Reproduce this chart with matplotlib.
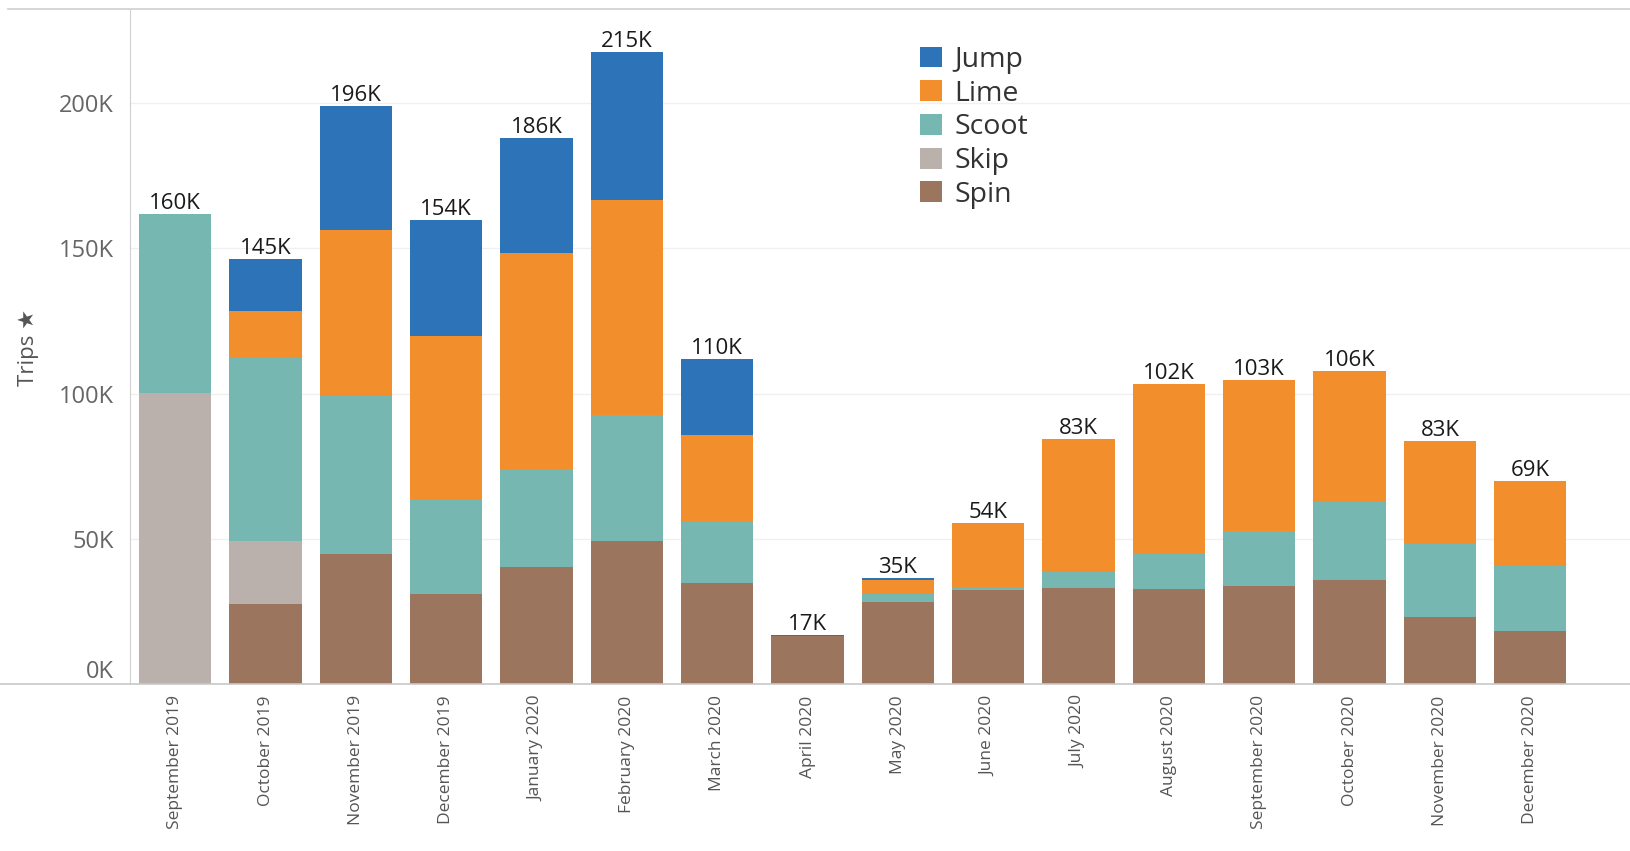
import numpy as np
import matplotlib.pyplot as plt
from matplotlib.lines import Line2D

plt.rcParams['font.family'] = ['Open Sans', 'DejaVu Sans']

months = ['September 2019', 'October 2019', 'November 2019', 'December 2019',
          'January 2020', 'February 2020', 'March 2020', 'April 2020',
          'May 2020', 'June 2020', 'July 2020', 'August 2020',
          'September 2020', 'October 2020', 'November 2020', 'December 2020']

# trips in thousands
spin  = [0, 27.6, 44.8, 31.0, 40.3, 49.3, 34.8, 16.5, 28.3, 32.4, 33.1, 32.8, 33.8, 35.9, 23.1, 18.3]
skip  = [100.3, 21.7, 0, 0, 0, 0, 0, 0, 0, 0, 0, 0, 0, 0, 0, 0]
scoot = [61.7, 63.1, 54.5, 32.4, 33.5, 43.5, 21.4, 0, 2.7, 1.0, 5.5, 12.0, 19.0, 26.9, 25.2, 22.4]
lime  = [0, 16.2, 56.9, 56.6, 74.8, 73.8, 29.7, 0, 4.9, 22.1, 45.9, 58.6, 52.0, 45.1, 35.5, 29.3]
jump  = [0, 17.6, 42.8, 39.7, 39.3, 51.0, 26.2, 0.5, 0.7, 0, 0, 0, 0, 0, 0, 0]

total_labels = ['160K', '145K', '196K', '154K', '186K', '215K', '110K', '17K',
                '35K', '54K', '83K', '102K', '103K', '106K', '83K', '69K']

series = [('Spin', spin, '#9c755f'),
          ('Skip', skip, '#bab0ac'),
          ('Scoot', scoot, '#76b7b2'),
          ('Lime', lime, '#f28e2b'),
          ('Jump', jump, '#2d73b8')]

fig = plt.figure(figsize=(16.3, 8.51), dpi=100)
ax = fig.add_axes([0.0798, 0.196, 0.92, 0.792])

x = np.arange(len(months))
bottom = np.zeros(len(months))
handles = {}
for name, vals, color in series:
    vals = np.array(vals)
    h = ax.bar(x, vals, 0.8, bottom=bottom, color=color, label=name, linewidth=0)
    handles[name] = h
    bottom += vals

for xi, top, lab in zip(x, bottom, total_labels):
    ax.text(xi, top, lab, ha='center', va='bottom', fontsize=16, color='#1a1a1a')

ax.set_xlim(-0.5, 16.1)
ax.set_ylim(0, 232)
ax.set_yticks([0, 50, 100, 150, 200])
ax.set_yticklabels(['0K', '50K', '100K', '150K', '200K'])
ax.tick_params(axis='y', length=0, labelsize=17, labelcolor='#666666', pad=12)
ax.get_yticklabels()[0].set_verticalalignment('bottom')
ax.set_xticks(x)
ax.set_xticklabels(months, rotation=90)
ax.tick_params(axis='x', length=0, labelsize=12.5, labelcolor='#555555', pad=8)
ax.grid(axis='y', color='#f0f0f0', linewidth=1)
ax.set_axisbelow(True)
ax.set_ylabel('Trips \u2605', fontsize=16, color='#555555', labelpad=14)

for side in ['top', 'right', 'bottom']:
    ax.spines[side].set_visible(False)
ax.spines['left'].set_color('#d0d0d0')

# full-width rules at the top and along the baseline
fig.add_artist(Line2D([0.005, 1], [0.989, 0.989], color='#cfcfcf', linewidth=1.2))
fig.add_artist(Line2D([0, 1], [0.196, 0.196], color='#c8c8c8', linewidth=1.2))

order = ['Jump', 'Lime', 'Scoot', 'Skip', 'Spin']
ax.legend([handles[n] for n in order], order, loc='upper left',
          bbox_to_anchor=(0.51, 0.985), frameon=False, fontsize=20.5,
          handlelength=0.75, handleheight=0.75, handletextpad=0.45,
          labelspacing=0.2, labelcolor='#333333')

fig.savefig('out.png', dpi=100)
